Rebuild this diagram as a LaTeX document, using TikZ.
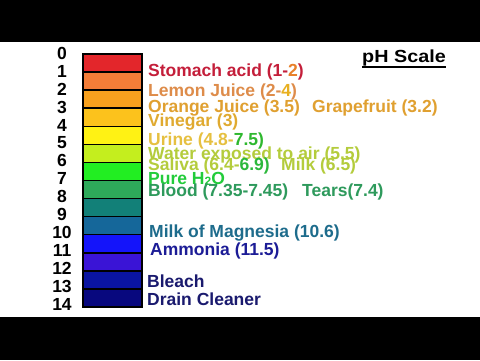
\documentclass[tikz,border=0pt]{standalone}
\usepackage{fontspec}
\setmainfont{Liberation Sans}
\newfontfamily\titlefont{Liberation Sans}[FakeStretch=1.13]
\definecolor{b1}{HTML}{E3262B}
\definecolor{b2}{HTML}{F47D38}
\definecolor{b3}{HTML}{F7A01E}
\definecolor{b4}{HTML}{FCC21C}
\definecolor{b5}{HTML}{FFF214}
\definecolor{b6}{HTML}{C4EE1E}
\definecolor{b7}{HTML}{22EE22}
\definecolor{b8}{HTML}{2EAA5A}
\definecolor{b9}{HTML}{128078}
\definecolor{b10}{HTML}{15679A}
\definecolor{b11}{HTML}{1414FA}
\definecolor{b12}{HTML}{3A14D6}
\definecolor{b13}{HTML}{0A14A0}
\definecolor{b14}{HTML}{08087E}
\definecolor{cStomach}{HTML}{C41E3A}
\definecolor{cTwo}{HTML}{E8802A}
\definecolor{cLemon}{HTML}{DE8C4A}
\definecolor{cFour}{HTML}{E8B020}
\definecolor{cOrange}{HTML}{E0A030}
\definecolor{cVinegar}{HTML}{E0AA30}
\definecolor{cUrine}{HTML}{E6C040}
\definecolor{cGreenNum}{HTML}{2EB82E}
\definecolor{cWater}{HTML}{B4CC3C}
\definecolor{cSixNine}{HTML}{2CB83C}
\definecolor{cPure}{HTML}{22CC3A}
\definecolor{cBlood}{HTML}{2E9A5C}
\definecolor{cMagnesia}{HTML}{1E6C8C}
\definecolor{cAmmonia}{HTML}{1C1C96}
\definecolor{cBleach}{HTML}{1A1A6E}
\begin{document}
\begin{tikzpicture}[x=1pt,y=-1pt,
  lbl/.style={anchor=base west,inner sep=0pt,font=\fontsize{17.5}{17.5}\selectfont\bfseries},
  num/.style={anchor=center,inner sep=0pt,font=\fontsize{17.5}{17.5}\selectfont\bfseries}]
\useasboundingbox (0,0) rectangle (480,360);
\fill[white] (0,0) rectangle (480,360);
\fill[black] (0,0) rectangle (480,42);
\fill[black] (0,317) rectangle (480,360);
% bar
\foreach \i in {1,...,14}{
  \pgfmathsetmacro{\ya}{54+(\i-1)*18.07}
  \pgfmathsetmacro{\yb}{54+\i*18.07}
  \filldraw[fill=b\i,draw=black,line width=1.5pt] (83,\ya) rectangle (142,\yb);
}
\draw[black,line width=2pt] (83,54) rectangle (142,307);
% numbers
\foreach \i in {0,...,14}{
  \node[num] (n\i) at (62,{53.5+17.9*\i}) {\i};
}
% title
\node[anchor=base,inner sep=0pt,font=\titlefont\fontsize{17.5}{17.5}\selectfont\bfseries] (ph) at (404,62.7) {pH Scale};
\draw[line width=1.8pt] ([yshift=-4pt]ph.base west) -- ([yshift=-4pt]ph.base east);
% labels
\node[lbl,text=cStomach] (stomach) at (148,76.7) {Stomach acid (1-\textcolor{cTwo}{2})};
\node[lbl,text=cLemon] (lemon) at (148,96) {Lemon Juice (2-\textcolor{cFour}{4})};
\node[lbl,text=cOrange] (orange) at (148,112.5) {Orange Juice (3.5)};
\node[lbl,text=cOrange] (grape) at (312,112.5) {Grapefruit (3.2)};
\node[lbl,text=cVinegar] (vinegar) at (148,126.7) {Vinegar (3)};
\node[lbl,text=cUrine] (urine) at (148,145) {Urine (4.8-\textcolor{cGreenNum}{7.5)}};
\node[lbl,text=cWater] (water) at (148,159.5) {Water exposed to air (5.5)};
\node[lbl,text=cWater] (saliva) at (148,170.7) {Saliva (6.4-\textcolor{cSixNine}{6.9)}};
\node[lbl,text=cWater] (milk) at (281,170.7) {Milk (6.5)};
\node[lbl,text=cPure] (pure) at (148,184.3) {Pure H\raisebox{-0.1ex}{\fontsize{12}{12}\selectfont 2}O};
\node[lbl,text=cBlood] (blood) at (148,196.7) {Blood (7.35-7.45)};
\node[lbl,text=cBlood] (tears) at (302,196.7) {Tears(7.4)};
\node[lbl,text=cMagnesia] (magnesia) at (149,237.5) {Milk of Magnesia (10.6)};
\node[lbl,text=cAmmonia] (ammonia) at (150,255) {Ammonia (11.5)};
\node[lbl,text=cBleach] (bleach) at (147,287.7) {Bleach};
\node[lbl,text=cBleach] (drain) at (147,305) {Drain Cleaner};
\end{tikzpicture}
\end{document}
